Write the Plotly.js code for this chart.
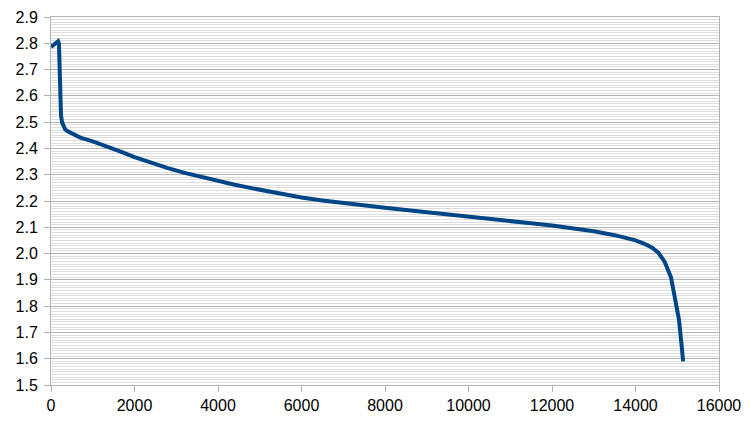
<!DOCTYPE html>
<html>
<head>
<meta charset="utf-8">
<script src="https://cdn.plot.ly/plotly-3.0.1.min.js"></script>
<style>html,body{margin:0;padding:0;background:#fff;}#chart{width:756px;height:425px;}</style>
</head>
<body>
<div id="chart"></div>
<script>
const capacity = [0, 60, 120, 170, 190, 200, 210, 222, 240, 265, 300, 340, 400, 500, 600, 700, 1000, 1340, 1700, 2000, 2400, 2800, 3200, 3600, 4000, 4400, 4800, 5200, 5600, 6000, 6500, 7000, 7500, 8000, 8500, 9000, 9500, 10000, 10500, 11000, 11500, 12000, 12500, 13000, 13500, 14000, 14200, 14400, 14550, 14700, 14850, 14950, 15040, 15105, 15140];
const voltage  = [2.786, 2.795, 2.803, 2.808, 2.80, 2.75, 2.66, 2.57, 2.525, 2.499, 2.484, 2.472, 2.465, 2.456, 2.448, 2.441, 2.427, 2.408, 2.386, 2.367, 2.345, 2.325, 2.307, 2.291, 2.276, 2.262, 2.249, 2.236, 2.224, 2.213, 2.202, 2.192, 2.183, 2.174, 2.166, 2.157, 2.148, 2.140, 2.132, 2.124, 2.115, 2.107, 2.097, 2.085, 2.070, 2.050, 2.038, 2.022, 2.003, 1.968, 1.910, 1.835, 1.750, 1.650, 1.590];
const xTicks = [0, 2000, 4000, 6000, 8000, 10000, 12000, 14000, 16000];
const yTicks = [1.5, 1.6, 1.7, 1.8, 1.9, 2.0, 2.1, 2.2, 2.3, 2.4, 2.5, 2.6, 2.7, 2.8, 2.9];

const trace = {
  x: capacity, y: voltage, type: 'scatter', mode: 'lines',
  line: {color: '#004586', width: 4},
  hoverinfo: 'skip'
};
const layout = {
  width: 756, height: 425,
  margin: {l: 51, r: 37, t: 17, b: 40, pad: 0},
  paper_bgcolor: '#ffffff', plot_bgcolor: '#ffffff',
  font: {family: '"Liberation Sans", Arial, sans-serif', size: 16, color: '#000000'},
  showlegend: false,
  xaxis: {
    range: [0, 16000], tickvals: xTicks, ticktext: xTicks.map(String),
    showgrid: false, zeroline: false,
    showline: true, linecolor: '#b3b3b3', linewidth: 1, mirror: true,
    ticks: 'outside', ticklen: 6, tickcolor: '#b3b3b3', tickwidth: 1
  },
  yaxis: {
    range: [1.5, 2.9], tickvals: yTicks, ticktext: yTicks.map(v => v.toFixed(1)),
    showgrid: true, gridcolor: '#b3b3b3', gridwidth: 1, zeroline: false,
    showline: true, linecolor: '#b3b3b3', linewidth: 1, mirror: true,
    ticks: 'outside', ticklen: 6, tickcolor: '#b3b3b3', tickwidth: 1,
    ticklabelstandoff: 3,
    minor: {dtick: 0.01, tick0: 1.5, showgrid: true, gridcolor: '#dddddd', gridwidth: 1, ticks: ''}
  }
};
Plotly.newPlot('chart', [trace], layout, {staticPlot: true, displayModeBar: false});
</script>
</body>
</html>
